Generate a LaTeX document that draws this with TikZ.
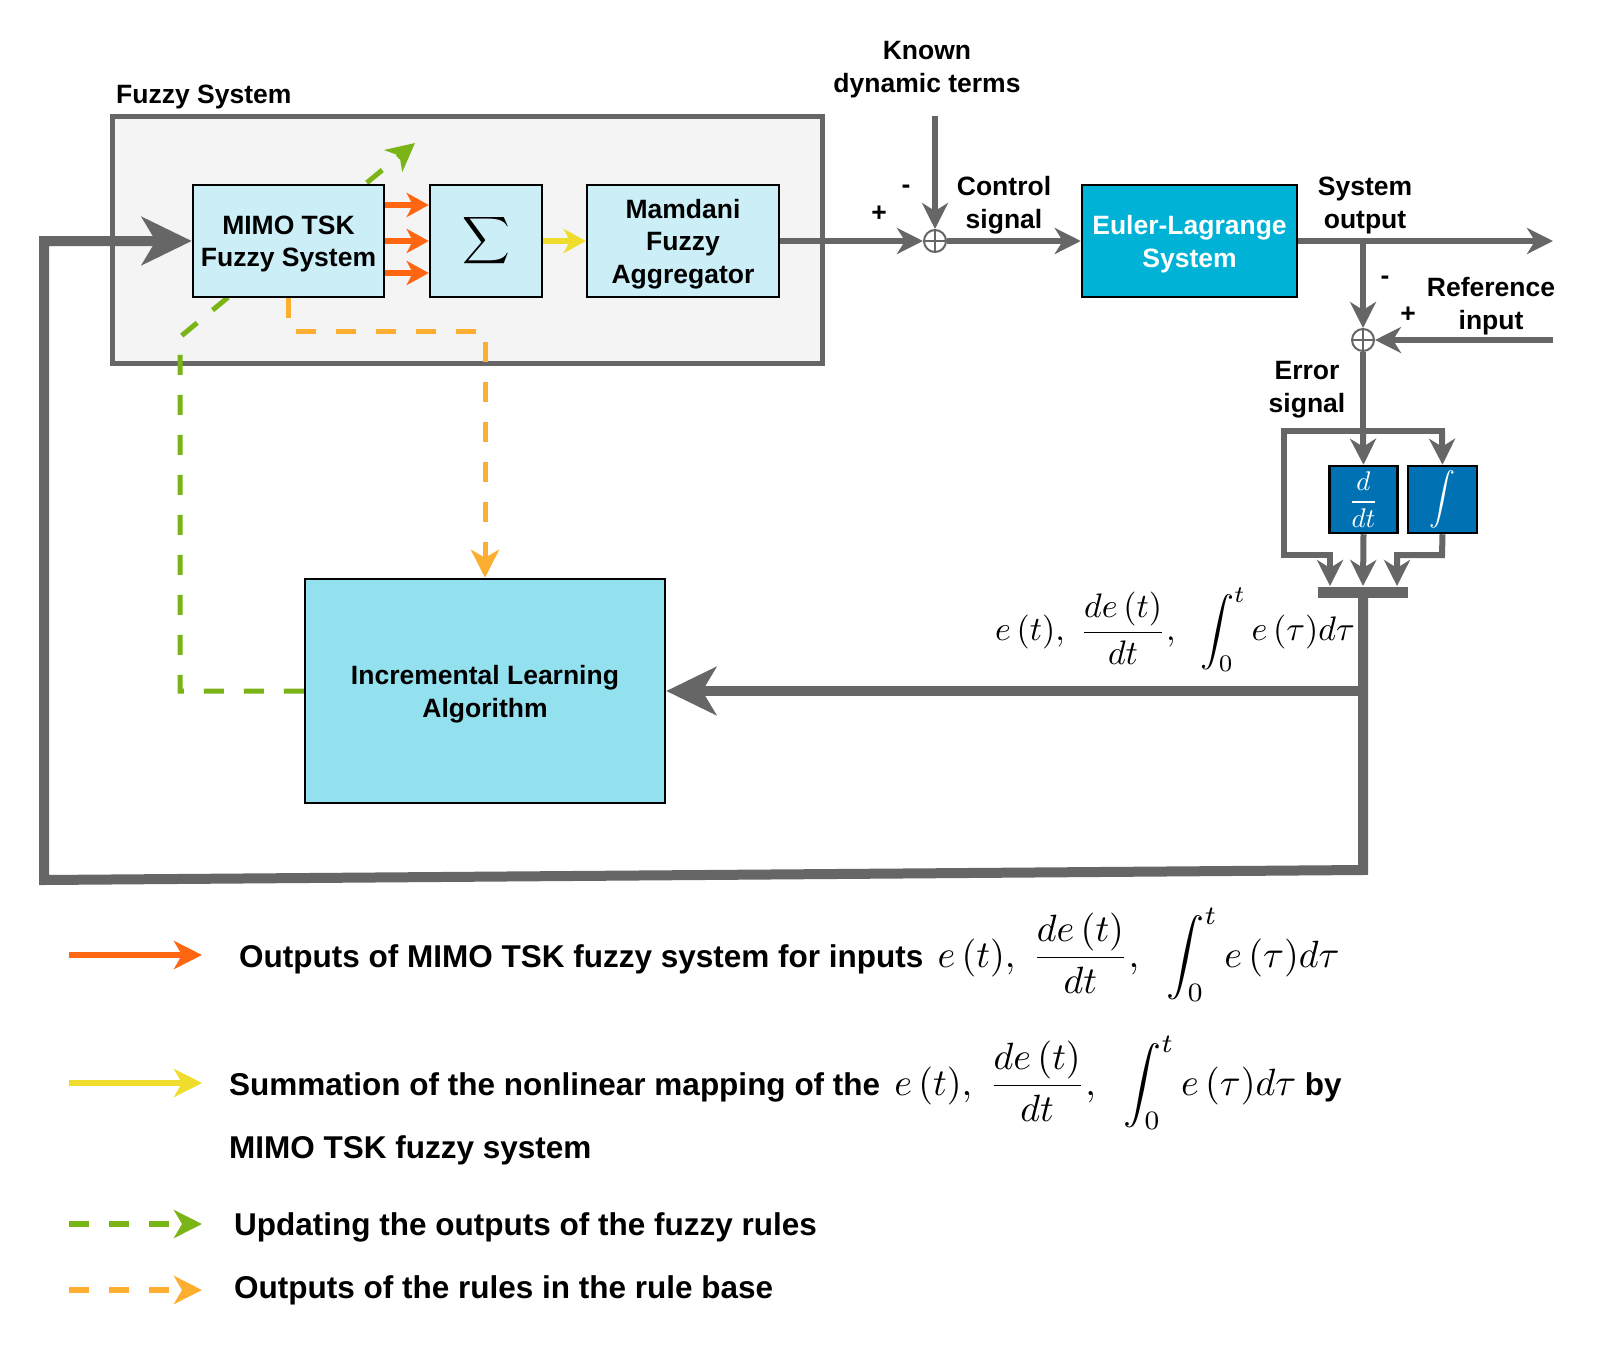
\documentclass[tikz,border=0pt]{standalone}
\usepackage{graphicx}
\usepackage[no-math]{fontspec}
\setmainfont{Liberation Sans}
\usetikzlibrary{arrows.meta}
\pgfdeclarelayer{back}
\pgfdeclarelayer{mid}
\pgfsetlayers{back,mid,main}
\definecolor{lgray}{RGB}{102,102,102}
\definecolor{fzfill}{RGB}{244,244,244}
\definecolor{lcyan}{RGB}{204,239,247}
\definecolor{inccyan}{RGB}{147,224,239}
\definecolor{eulerblue}{RGB}{0,178,214}
\definecolor{dblue}{RGB}{0,114,180}
\definecolor{orng}{RGB}{255,102,17}
\definecolor{yell}{RGB}{240,220,45}
\definecolor{grn}{RGB}{122,180,22}
\definecolor{lorng}{RGB}{252,174,48}
\newcommand{\errmath}{\fontsize{10}{12}\selectfont$\displaystyle e\,(t),\ \frac{de\,(t)}{dt},\ \ \int_0^t e\,(\tau)d\tau$}
\newcommand{\dn}[1]{\raisebox{-3pt}[\height][\depth]{#1}}
\tikzset{
 lbl/.style={font=\fontsize{26.5}{33}\selectfont\bfseries, align=center, inner sep=0},
 blk/.style={draw=black, line width=2.5pt, fill=lcyan, align=center, inner sep=0, font=\fontsize{26.5}{32.6}\selectfont\bfseries},
 gline/.style={draw=lgray, line width=6pt},
 gtip/.style={-{Stealth[length=26pt,width=26pt,inset=8pt]}},
 bigtip/.style={-{Stealth[length=50pt,width=48pt,inset=14pt]}},
 ctip/.style={-{Stealth[length=22pt,width=24pt,inset=6pt]}},
 ltip/.style={-{Stealth[length=28pt,width=28pt,inset=8pt]}},
 dashes/.style={dash pattern=on 20pt off 20pt},
 sumc/.style={circle, draw=lgray, line width=2pt, fill=white, minimum size=22pt, inner sep=0},
 legtext/.style={font=\fontsize{31.5}{38}\selectfont\bfseries, anchor=west, inner sep=0},
}
\begin{document}
\begin{tikzpicture}[x=1pt,y={(0pt,-1pt)}]
\useasboundingbox (0,0) rectangle (1600,1354);

% Fuzzy system frame
\begin{pgfonlayer}{back}
\fill[white] (0,0) rectangle (1600,1354);
\node[draw=lgray, line width=5pt, fill=fzfill, minimum width=710pt, minimum height=247pt, inner sep=0] (fz) at (467,239.5) {};
\end{pgfonlayer}
\node[lbl, anchor=west] (fzlbl) at (116,97) {Fuzzy System};

% blocks
\node[blk, minimum width=191pt, minimum height=112pt] (mimo) at (288.5,241) {\dn{MIMO TSK}\\\dn{Fuzzy System}};
\node[blk, minimum width=112pt, minimum height=112pt] (sig) at (486,241) {\scalebox{3.3}{\fontsize{10}{12}\selectfont$\displaystyle\sum$}};
\node[blk, minimum width=192pt, minimum height=112pt] (mam) at (683,241) {\dn{Mamdani}\\\dn{Fuzzy}\\\dn{Aggregator}};
\node[blk, fill=eulerblue, text=white, minimum width=215pt, minimum height=112pt] (eul) at (1189.5,241) {\dn{Euler-Lagrange}\\\dn{System}};
\node[blk, fill=inccyan, minimum width=360pt, minimum height=224pt] (inc) at (485,691) {\dn{Incremental Learning}\\\dn{Algorithm}};
\node[blk, fill=dblue, text=white, minimum width=68pt, minimum height=67pt] (ddt) at (1363.5,499.5) {\scalebox{2.7}{\fontsize{10}{12}\selectfont$\displaystyle\frac{d}{dt}$}};
\node[blk, fill=dblue, text=white, minimum width=69pt, minimum height=67pt] (intg) at (1442.5,499.5) {\scalebox{2.6}{\fontsize{10}{12}\selectfont$\displaystyle\int$}};

% summing junctions
\node[sumc] (s1) at (935,241) {};
\draw[lgray, line width=1.5pt] (s1.north) -- (s1.south) (s1.west) -- (s1.east);
\node[sumc] (s2) at (1363,340) {};
\draw[lgray, line width=1.5pt] (s2.north) -- (s2.south) (s2.west) -- (s2.east);

% bar
\node[fill=lgray, minimum width=90pt, minimum height=11pt, inner sep=0] (bar) at (1363,592) {};

% coordinates
\coordinate (kdt) at (935,116);
\coordinate (sysout) at (1553,241);
\coordinate (brk) at (1363,241);
\coordinate (ref) at (1553,340);
\coordinate (dist) at (1363,431);
\coordinate (dl) at (1284,431);
\coordinate (dr) at (1442,431);
\coordinate (dlb) at (1284,555);
\coordinate (dlt) at (1330,586);
\coordinate (drb) at (1442,555);
\coordinate (drt) at (1397,586);
\coordinate (ddtt) at (1363,586);
\coordinate (fbr) at (1363,870);
\coordinate (fbl) at (44,880);
\coordinate (fbu) at (44,241);
\coordinate (fbi) at (1363,691);
\coordinate (gtop) at (415,143);

% dashed connectors
\begin{pgfonlayer}{mid}
\draw[grn, line width=5pt, dashes, ltip] (inc.west) -- (180,691) -- (180,337) -- (gtop);
\draw[lorng, line width=5pt, dashes, ltip] (mimo.south) -- ++(0,33) -| (inc.north);
\end{pgfonlayer}

% colored arrows inside fuzzy system
\foreach \yy in {205,241,273}{
  \draw[orng, line width=6pt, ctip] (mimo.east |- 0,\yy) -- (sig.west |- 0,\yy);
}
\draw[yell, line width=6pt, ctip] (sig.east) -- (mam.west);

% gray connectors
\draw[gline, gtip] (mam.east) -- (s1.west);
\draw[gline, gtip] (kdt) -- (s1.north);
\draw[gline, gtip] (s1.east) -- (eul.west);
\draw[gline, gtip] (eul.east) -- (sysout);
\draw[gline, gtip] (brk) -- (s2.north);
\draw[gline, gtip] (ref) -- (s2.east);
\draw[gline] (s2.south) -- (dist);
\draw[gline, line cap=rect] (dl) -- (dr);
\draw[gline, gtip] (dist) -- (ddt.north);
\draw[gline, gtip, line join=miter] (dl) -- (dlb) -- (dlb -| dlt) -- (dlt);
\draw[gline, gtip] (dr) -- (intg.north);
\draw[gline, gtip, line join=miter] (intg.south) -- (drb) -- (drb -| drt) -- (drt);
\draw[gline, gtip] (ddt.south) -- (ddtt);

% big feedback
\draw[gline, line width=10pt, bigtip, line join=miter] (bar.south) -- (fbr) -- (fbl) -- (fbu) -- (mimo.west);
\draw[gline, line width=10pt, bigtip] (fbi) -- (inc.east);

% labels
\node[lbl] (known) at (927,70) {Known\\dynamic terms};
\node[lbl] (p1) at (879,214) {+};
\node[lbl] (m1) at (906,189) {-};
\node[lbl] (ctl) at (1004,205) {Control\\signal};
\node[lbl] (so) at (1365,205) {System\\output};
\node[lbl] (m2) at (1385,280) {-};
\node[lbl] (p2) at (1408,315) {+};
\node[lbl] (refl) at (1491,306) {Reference\\input};
\node[lbl] (err) at (1307,390) {Error\\signal};
\node[inner sep=0] (sig3) at (1175,630) {\scalebox{3.4}{\errmath}};

% legend
\coordinate (l1a) at (69,955);  \coordinate (l1b) at (202,955);
\coordinate (l2a) at (69,1083); \coordinate (l2b) at (202,1083);
\coordinate (l3a) at (69,1224); \coordinate (l3b) at (202,1224);
\coordinate (l4a) at (69,1290); \coordinate (l4b) at (202,1290);
\draw[orng, line width=6pt, ltip] (l1a) -- (l1b);
\draw[yell, line width=6pt, ltip] (l2a) -- (l2b);
\draw[grn, line width=6pt, dashes, ltip] (l3a) -- (l3b);
\draw[lorng, line width=6pt, dashes, ltip] (l4a) -- (l4b);
\node[legtext] (t1) at (239,955) {Outputs of MIMO TSK fuzzy system for inputs\hspace{0.45em}\scalebox{3.8}{\errmath}};
\node[legtext] (t2) at (229,1083) {Summation of the nonlinear mapping of the\hspace{0.45em}\scalebox{3.8}{\errmath} by};
\node[legtext] (t2b) at (229,1150) {MIMO TSK fuzzy system};
\node[legtext] (t3) at (234,1227) {Updating the outputs of the fuzzy rules};
\node[legtext] (t4) at (234,1290) {Outputs of the rules in the rule base};
\end{tikzpicture}
\end{document}
